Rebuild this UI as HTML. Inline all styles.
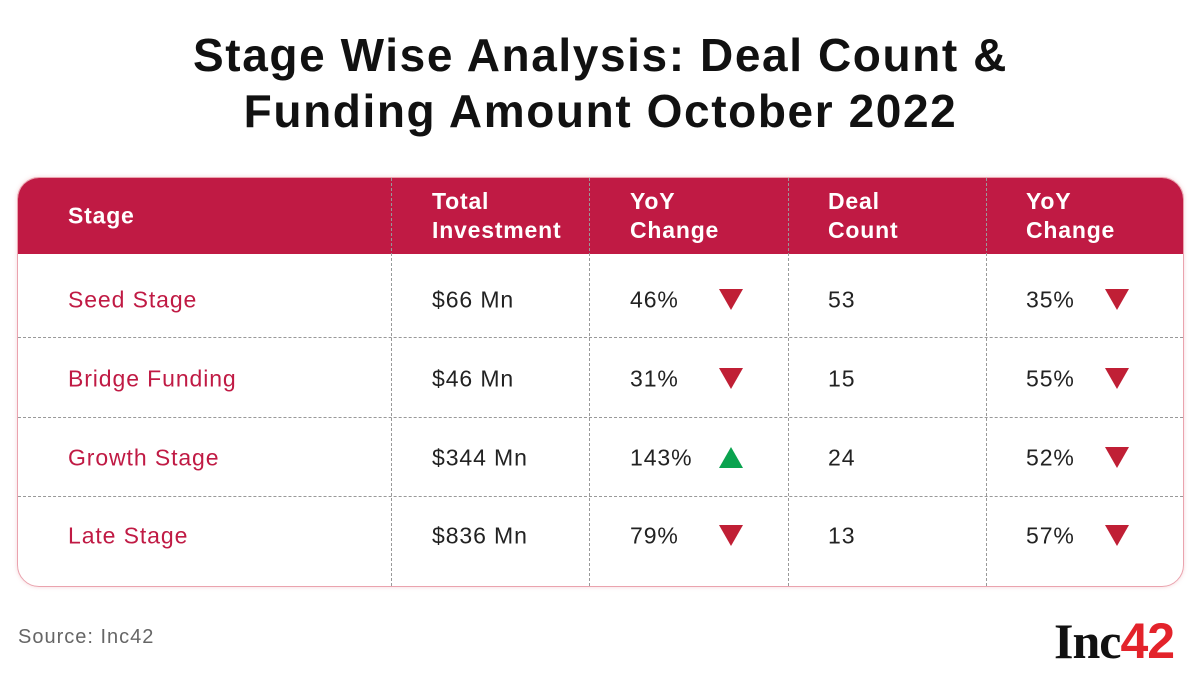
<!DOCTYPE html>
<html><head><meta charset="utf-8">
<style>
body{margin:0;width:1201px;height:687px;background:#fff;font-family:"Liberation Sans",sans-serif;position:relative;overflow:hidden}
.title{position:absolute;left:0;width:1201px;text-align:center;font-weight:bold;font-size:46px;color:#111;letter-spacing:1.6px}
.box{position:absolute;left:17px;top:177px;width:1165px;height:408px;border:1.5px solid #eaa3ae;border-radius:22px;overflow:hidden;box-shadow:0 0 4px rgba(230,150,160,0.4)}
.hdr{position:absolute;left:0;top:0;width:100%;height:76px;background:#c01a44}
.t{position:absolute;font-size:23px;letter-spacing:0.9px;white-space:nowrap;transform:translateY(-50%)}
.h{color:#fff;font-weight:bold;line-height:29px;letter-spacing:0.8px}
.vl{position:absolute;top:0;height:100%;border-left:1.5px dashed #999}
.hl{position:absolute;left:0;width:100%;border-top:1.5px dashed #999}
.tri{position:absolute;width:0;height:0;border-left:12px solid transparent;border-right:12px solid transparent}
.dn{border-top:21px solid #c01f35}
.up{border-bottom:21px solid #0aa34f}
</style></head><body>
<div class="title" style="top:28px">Stage Wise Analysis: Deal Count &amp;</div>
<div class="title" style="top:84px">Funding Amount October 2022</div>
<div class="box" id="box">
  <div class="hdr"></div>
</div>
<div style="position:absolute;left:18px;top:626px;font-size:20px;letter-spacing:1px;color:#666">Source: Inc42</div>
<div style="position:absolute;left:1054px;top:612px;font-family:'Liberation Serif',serif;font-weight:bold;font-size:50px;color:#111;letter-spacing:-1px">Inc<span style="color:#e3232b;font-family:'Liberation Sans',sans-serif">42</span></div>
<script>
const stages=["Seed Stage","Bridge Funding","Growth Stage","Late Stage"];
const investment=["$66 Mn","$46 Mn","$344 Mn","$836 Mn"];
const invYoY=["46%","31%","143%","79%"];
const invDir=["down","down","up","down"];
const deals=["53","15","24","13"];
const dealYoY=["35%","55%","52%","57%"];
const dealDir=["down","down","down","down"];
const box=document.getElementById('box');
const colX=[50,414,612,810,1008];
const divX=[373,571,770,968];
const rowY=[122,201,280,358];
const hdrTexts=[["Stage"],["Total","Investment"],["YoY","Change"],["Deal","Count"],["YoY","Change"]];
function add(cls,style,text,name){const d=document.createElement('div');d.className=cls;d.setAttribute('style',style);if(text!==null)d.innerHTML=text;


box.appendChild(d);return d;}
divX.forEach((x,i)=>add('vl','left:'+x+'px',null,'column-divider-'+(i+1)));
[159,239,318].forEach((y,i)=>add('hl','top:'+y+'px',null,'row-divider-'+(i+1)));
hdrTexts.forEach((h,i)=>add('t h','left:'+colX[i]+'px;top:38px',h.join('<br>'),'header-'+h.join('-').toLowerCase()));
stages.forEach((s,i)=>{
  const y=rowY[i];
  add('t','left:'+colX[0]+'px;top:'+y+'px;color:#c01a44',s,'stage-'+s.toLowerCase().replace(' ','-'));
  add('t','left:'+colX[1]+'px;top:'+y+'px;color:#222',investment[i],'investment-value');
  add('t','left:'+colX[2]+'px;top:'+y+'px;color:#222',invYoY[i],'investment-yoy');
  add('tri '+(invDir[i]==='up'?'up':'dn'),'left:'+(colX[2]+89)+'px;top:'+(y-11)+'px',null,'investment-yoy-arrow');
  add('t','left:'+colX[3]+'px;top:'+y+'px;color:#222',deals[i],'deal-count');
  add('t','left:'+colX[4]+'px;top:'+y+'px;color:#222',dealYoY[i],'deal-yoy');
  add('tri '+(dealDir[i]==='up'?'up':'dn'),'left:'+(colX[4]+79)+'px;top:'+(y-11)+'px',null,'deal-yoy-arrow');
});
</script>
</body></html>
